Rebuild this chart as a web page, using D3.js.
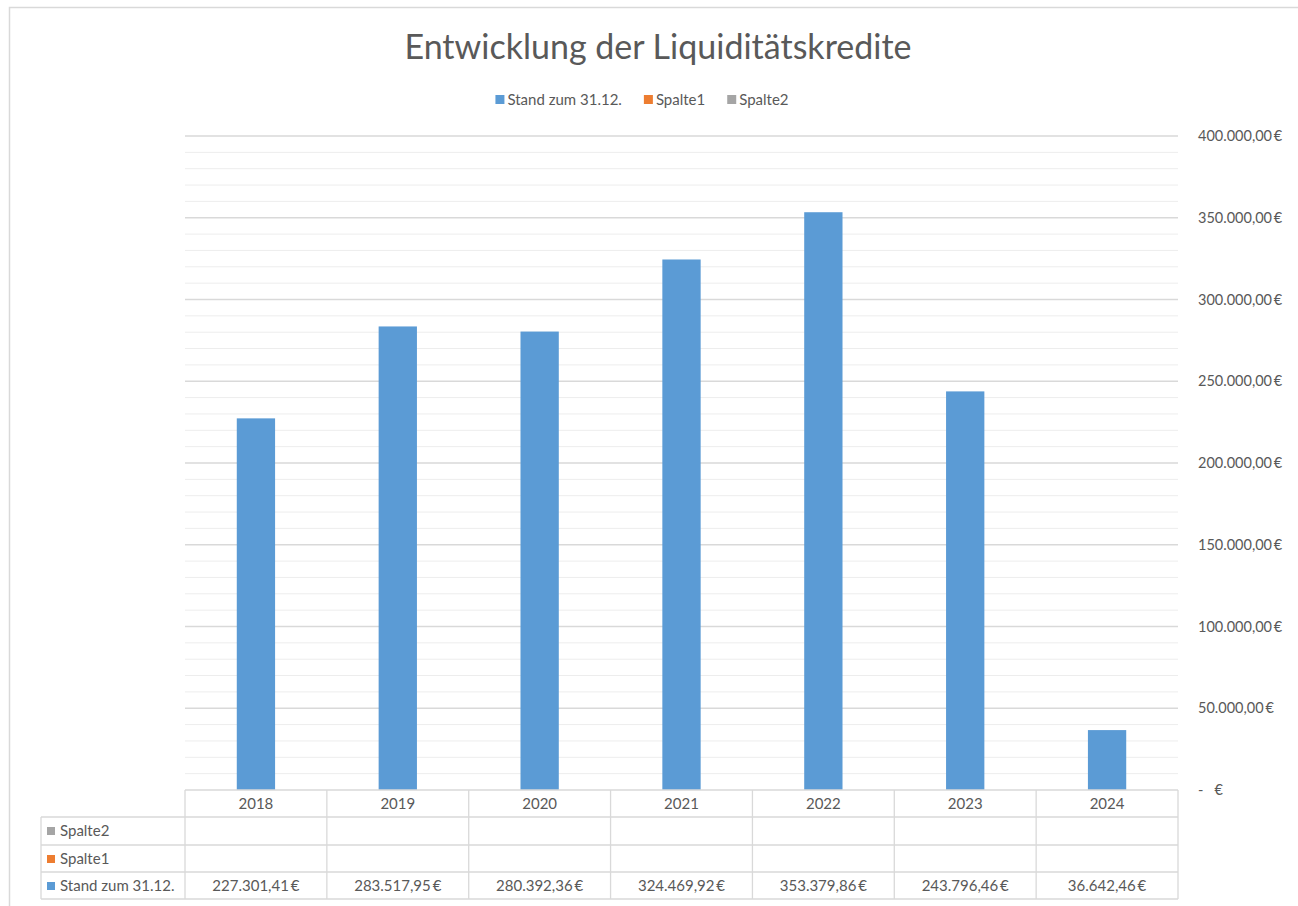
<!DOCTYPE html>
<html>
<head>
<meta charset="utf-8">
<script src="https://cdn.jsdelivr.net/npm/d3@7"></script>
<style>
  body { margin: 0; background: #fff; }
  text { font-family: Lato, "Open Sans", sans-serif; fill: #595959; }
</style>
</head>
<body>
<div id="chart"></div>
<script>
var width = 1298;
var height = 906;

// Daten
var years = ["2018", "2019", "2020", "2021", "2022", "2023", "2024"];
var stand = [227301.41, 283517.95, 280392.36, 324469.92, 353379.86, 243796.46, 36642.46];
var spalte1 = [null, null, null, null, null, null, null];
var spalte2 = [null, null, null, null, null, null, null];
var seriesNames = ["Stand zum 31.12.", "Spalte1", "Spalte2"];
var seriesColors = ["#5b9bd5", "#ed7d31", "#a5a5a5"];
var yTicks = [0, 50000, 100000, 150000, 200000, 250000, 300000, 350000, 400000];

var de = d3.formatLocale({ decimal: ",", thousands: ".", grouping: [3], currency: ["", "\u2009€"] });
var fmt = de.format("$,.2f");

var plotLeft = 185, plotRight = 1178, plotTop = 136, plotBottom = 790;

var svg = d3.select("#chart").append("svg")
    .attr("width", width)
    .attr("height", height);

// Rahmen
svg.append("rect")
    .attr("x", 9.5).attr("y", 7.5)
    .attr("width", 1300).attr("height", 910)
    .attr("fill", "none")
    .attr("stroke", "#d9d9d9")
    .attr("stroke-width", 1.5);

var x = d3.scaleBand().domain(years).range([plotLeft, plotRight]).paddingInner(0.73).paddingOuter(0.365);
var xCol = d3.scaleBand().domain(years).range([plotLeft, plotRight]);
var y = d3.scaleLinear().domain([0, 400000]).range([plotBottom, plotTop]);

// Gitternetz
var minor = d3.range(0, 400001, 10000);
svg.selectAll(".minor")
    .data(minor.filter(d => d % 50000 !== 0))
    .enter().append("line")
    .attr("x1", plotLeft).attr("x2", plotRight)
    .attr("y1", d => y(d)).attr("y2", d => y(d))
    .attr("stroke", "#ededed").attr("stroke-width", 1);

svg.selectAll(".major")
    .data(yTicks.filter(d => d > 0))
    .enter().append("line")
    .attr("x1", plotLeft).attr("x2", plotRight)
    .attr("y1", d => y(d)).attr("y2", d => y(d))
    .attr("stroke", "#d9d9d9").attr("stroke-width", 1.3);

// Achsenbeschriftung
svg.selectAll(".ylab")
    .data(yTicks)
    .enter().append("text")
    .attr("x", 1198)
    .attr("y", d => y(d) + 5)
    .attr("font-size", 14.5)
    .attr("xml:space", "preserve")
    .text(d => d === 0 ? "-   €" : fmt(d));

// Balken
svg.selectAll(".bar")
    .data(stand)
    .enter().append("rect")
    .attr("x", (d, i) => x(years[i]))
    .attr("y", d => y(d))
    .attr("width", x.bandwidth())
    .attr("height", d => plotBottom - y(d))
    .attr("fill", seriesColors[0]);

// Titel
svg.append("text")
    .attr("x", 658).attr("y", 59)
    .attr("text-anchor", "middle")
    .attr("font-size", 34)
    .text("Entwicklung der Liquiditätskredite");

// Legende (Breite messen, dann zentrieren)
var legend = svg.append("g");
var lx = 0;
seriesNames.forEach(function (name, i) {
    var item = legend.append("g").attr("transform", "translate(" + lx + ",0)");
    item.append("rect")
        .attr("x", 0).attr("y", 95)
        .attr("width", 9).attr("height", 9)
        .attr("fill", seriesColors[i]);
    var t = item.append("text")
        .attr("x", 12).attr("y", 104.5)
        .attr("font-size", 15)
        .text(name);
    lx += 12 + t.node().getComputedTextLength() + 22;
});
var legendW = lx - 22;
legend.attr("transform", "translate(" + (642 - legendW / 2) + ",0)");

// Datentabelle
var rowY = [790, 817, 845, 872, 899];
var rows = [
    { name: "Spalte2", color: seriesColors[2], values: spalte2 },
    { name: "Spalte1", color: seriesColors[1], values: spalte1 },
    { name: "Stand zum 31.12.", color: seriesColors[0], values: stand }
];
var grid = svg.append("g").attr("stroke", "#d9d9d9").attr("stroke-width", 1.3).attr("fill", "none");
// horizontale Linien
grid.append("line").attr("x1", plotLeft).attr("x2", plotRight).attr("y1", rowY[0]).attr("y2", rowY[0]);
rowY.slice(1).forEach(function (yy) {
    grid.append("line").attr("x1", 41).attr("x2", plotRight).attr("y1", yy).attr("y2", yy);
});
// vertikale Linien
grid.append("line").attr("x1", 41).attr("x2", 41).attr("y1", rowY[1]).attr("y2", rowY[4]);
years.forEach(function (yr) {
    grid.append("line").attr("x1", xCol(yr)).attr("x2", xCol(yr)).attr("y1", rowY[0]).attr("y2", rowY[4]);
});
grid.append("line").attr("x1", plotRight).attr("x2", plotRight).attr("y1", rowY[0]).attr("y2", rowY[4]);

svg.selectAll(".year")
    .data(years)
    .enter().append("text")
    .attr("x", d => xCol(d) + xCol.bandwidth() / 2)
    .attr("y", rowY[0] + 19)
    .attr("text-anchor", "middle")
    .attr("font-size", 15)
    .text(d => d);

rows.forEach(function (r, ri) {
    var ry = rowY[ri + 1];
    svg.append("rect")
        .attr("x", 47).attr("y", ry + 10)
        .attr("width", 8).attr("height", 8)
        .attr("fill", r.color);
    svg.append("text")
        .attr("x", 60).attr("y", ry + 19)
        .attr("font-size", 15)
        .text(r.name);
    r.values.forEach(function (v, i) {
        if (v === null) return;
        svg.append("text")
            .attr("x", xCol(years[i]) + xCol.bandwidth() / 2)
            .attr("y", ry + 19)
            .attr("text-anchor", "middle")
            .attr("font-size", 15)
            .text(fmt(v));
    });
});
</script>
</body>
</html>
